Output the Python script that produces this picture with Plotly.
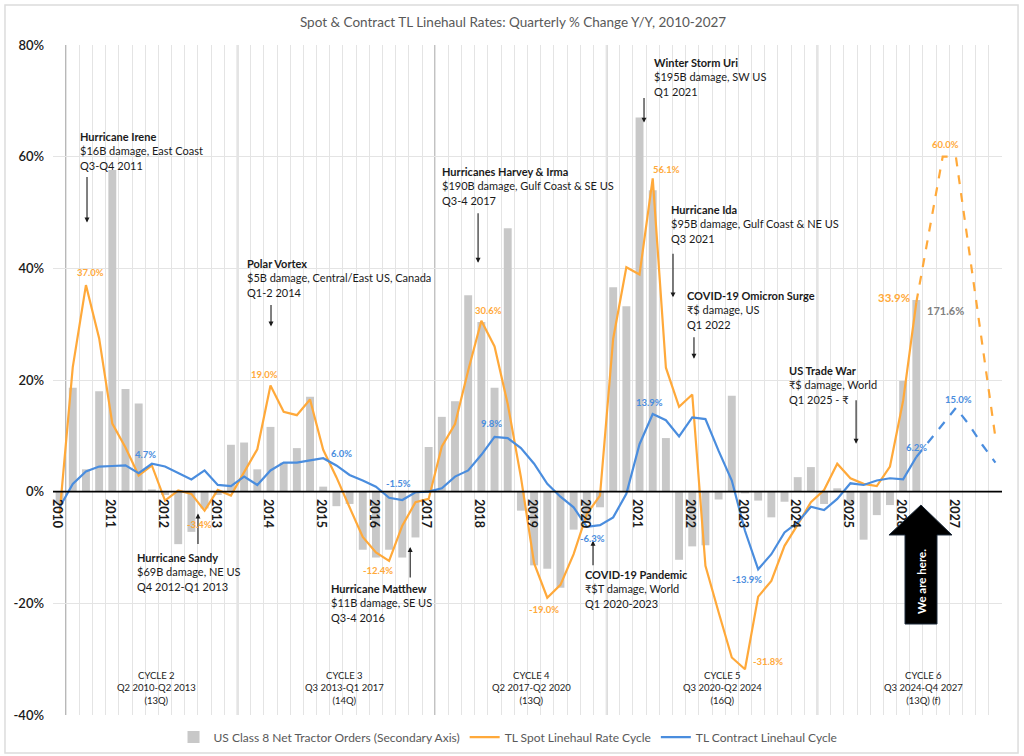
import plotly.graph_objects as go

# ---------------- data ----------------
years = list(range(2010, 2028))
quarters = [f"{y} Q{q}" for y in years for q in range(1, 5)]
year_labels = [str(y) if q == 1 else "" for y in years for q in range(1, 5)]
y_ticks = [-40, -20, 0, 20, 40, 60, 80]
y_tick_text = [f"{v}%" for v in y_ticks]

# US Class 8 net tractor orders, % change Y/Y (secondary axis), 2010 Q1 - 2026 Q2
orders = [-11, 93, 20, 90, 288, 92, 79, 2, -3, -47, -36, -15, -3, 42, 44, 20,
          58, 26, 39, 85, 4.5, -13, -11, -52, -59, -52, -59, -41, 40, 67, 81, 176,
          152, 93, 236, -17, -66, -69, -86, -34, -28, -14, 183, 166, 335, 270, 48, -61,
          -49, -48, -7, 86, -1.5, -8, -23, -9, 13, 22, -11, 3, -11, -43, -21, -12,
          99, 171.6]

# TL spot linehaul rate, % change Y/Y, 2010 Q1 - 2026 Q2
spot = [-4.0, 22.3, 37.0, 27.5, 12.2, 7.9, 2.9, 4.7, -1.6, 0.2, -0.4, -3.4, 0.3, -0.7, 3.5, 7.6,
        19.0, 14.3, 13.7, 16.5, 7.5, 2.6, -2.8, -8.1, -10.9, -12.4, -6.1, -1.9, -1.3, 8.1, 12.1, 21.7,
        30.6, 26.0, 15.7, 2.6, -12.8, -19.0, -16.7, -11.2, -4.0, -0.7, 27.4, 40.2, 38.9, 56.1, 22.2, 15.2,
        17.4, -13.3, -21.6, -29.7, -31.8, -18.8, -16.0, -9.7, -5.9, -1.9, 0.3, 5.0, 2.4, 1.4, 1.0, 4.5,
        16.3, 33.9]

# TL contract linehaul rate, % change Y/Y, 2010 Q1 - 2026 Q2
contract = [-2.8, 1.4, 3.6, 4.5, 4.6, 4.7, 3.3, 5.0, 4.5, 3.3, 2.2, 3.8, 1.2, 1.0, 2.7, 1.2,
            3.8, 5.2, 5.2, 5.6, 6.0, 4.7, 3.0, 2.0, 0.9, -1.1, -1.5, -0.1, 0.0, 0.6, 2.7, 3.8,
            6.6, 9.8, 9.6, 7.8, 5.0, 1.4, -0.9, -2.8, -6.3, -6.0, -4.6, -0.4, 8.5, 13.9, 12.8, 9.9,
            13.3, 13.0, 7.3, 2.0, -7.0, -13.9, -11.2, -7.3, -5.5, -2.7, -3.3, -1.3, 1.5, 1.2, 2.0, 2.4,
            2.2, 6.2]

# forecasts, 2026 Q2 - 2027 Q4
spot_forecast = [33.9, 46.8, 60.0, 60.0, 43.5, 27.0, 9.7]
contract_forecast = [6.2, 9.1, 12.1, 15.0, 12.0, 8.4, 5.2]

actual_q = quarters[:len(spot)]
forecast_q = quarters[len(spot) - 1:]

ORANGE = "#FFA93A"
BLUE = "#4A8DDE"
GRAY_BAR = "#C8C8C8"
TXT = "#1a1a1a"
FONT = "Lato, 'Noto Sans', sans-serif"

fig = go.Figure()
fig.add_trace(go.Bar(x=actual_q, y=orders, yaxis="y", name="US Class 8 Net Tractor Orders (Secondary Axis)",
                     marker=dict(color=GRAY_BAR, line=dict(width=0))))
fig.add_trace(go.Scatter(x=actual_q, y=spot, yaxis="y2", mode="lines", name="TL Spot Linehaul Rate Cycle",
                         line=dict(color=ORANGE, width=2.2)))
fig.add_trace(go.Scatter(x=actual_q, y=contract, yaxis="y2", mode="lines", name="TL Contract Linehaul Cycle",
                         line=dict(color=BLUE, width=2.2)))
fig.add_trace(go.Scatter(x=forecast_q, y=spot_forecast, yaxis="y2", mode="lines", showlegend=False,
                         line=dict(color=ORANGE, width=2.2, dash="dash")))
fig.add_trace(go.Scatter(x=forecast_q, y=contract_forecast, yaxis="y2", mode="lines", showlegend=False,
                         line=dict(color=BLUE, width=2.2, dash="dash")))

shapes = []
# cycle boundaries (between quarters)
for b in [0.5, 13.5, 28.5, 41.5, 57.5]:
    shapes.append(dict(type="line", xref="x", yref="paper", x0=b, x1=b, y0=0, y1=1,
                       line=dict(color="#6b6b6b", width=1.3), layer="below"))
# zero line
shapes.append(dict(type="line", xref="paper", yref="y2", x0=0, x1=1, y0=0, y1=0,
                   line=dict(color="black", width=1.6), layer="above"))
# outer frame
shapes.append(dict(type="rect", xref="paper", yref="paper", x0=-0.0506, x1=1.0169, y0=-0.0567, y1=1.0597,
                   line=dict(color="#dcdcdc", width=1.5), layer="below"))
# "We are here." arrow
shapes.append(dict(type="path", xref="paper", yref="paper",
                   path="M 0.9146,0.3134 L 0.9473,0.2687 L 0.9315,0.2687 L 0.9315,0.1358 "
                        "L 0.8978,0.1358 L 0.8978,0.2687 L 0.8809,0.2687 Z",
                   fillcolor="black", line=dict(color="#1c2a3a", width=1), layer="above"))

ann = []
# event annotations: (x, y top-left, title, line2, line3, arrow tip x, tip y, arrow ay)
events = [
    (1.40, 65.1, "Hurricane Irene", "$16B damage, East Coast", "Q3-Q4 2011", 2.08, 48.2, -47),
    (14.07, 42.3, "Polar Vortex", "$5B damage, Central/East US, Canada", "Q1-2 2014", 16.04, 29.6, -23),
    (28.86, 58.8, "Hurricanes Harvey &amp; Irma", "$190B damage, Gulf Coast &amp; SE US", "Q3-4 2017", 31.75, 41.0, -51),
    (44.95, 78.3, "Winter Storm Uri", "$195B damage, SW US", "Q1 2021", 44.34, 66.1, -26),
    (46.24, 52.0, "Hurricane Ida", "$95B damage, Gulf Coast &amp; NE US", "Q3 2021", 46.54, 34.8, -45),
    (47.45, 36.6, "COVID-19 Omicron Surge", "₹$ damage, US", "Q1 2022", 48.13, 23.8, -23),
    (55.19, 23.3, "US Trade War", "₹$ damage, World", "Q1 2025 - ₹", 60.43, 8.6, -45),
    (5.72, -10.2, "Hurricane Sandy", "$69B damage, NE US", "Q4 2012-Q1 2013", 10.5, -3.9, 32),
    (20.44, -15.9, "Hurricane Matthew", "$11B damage, SE US", "Q3-4 2016", 26.6, -9.9, 32),
    (39.71, -13.4, "COVID-19 Pandemic", "₹$T damage, World", "Q1 2020-2023", 40.47, -8.8, 26),
]
for x, y, t1, t2, t3, tx, ty, ay in events:
    ann.append(dict(x=x, y=y, xref="x", yref="y2", xanchor="left", yanchor="top", align="left",
                    text=f"<b>{t1}</b><br>{t2}<br>{t3}", showarrow=False,
                    font=dict(family=FONT, size=11, color=TXT)))
    ann.append(dict(x=tx, y=ty, xref="x", yref="y2", text="", showarrow=True, ax=0, ay=ay,
                    arrowhead=2, arrowsize=0.9, arrowwidth=1.1, arrowcolor=TXT))

# cycle labels
cycles = [(7.39, "CYCLE 2", "Q2 2010-Q2 2013", "(13Q)"),
          (21.58, "CYCLE 3", "Q3 2013-Q1 2017", "(14Q)"),
          (35.84, "CYCLE 4", "Q2 2017-Q2 2020", "(13Q)"),
          (50.33, "CYCLE 5", "Q3 2020-Q2 2024", "(16Q)"),
          (65.51, "CYCLE 6", "Q3 2024-Q4 2027", "(13Q) (f)")]
for x, a, b, c in cycles:
    ann.append(dict(x=x, y=-31.6, xref="x", yref="y2", xanchor="center", yanchor="top", align="center",
                    text=f"{a}<br>{b}<br>{c}", showarrow=False,
                    font=dict(family=FONT, size=9.5, color=TXT)))

# value labels: (series, quarter index, xshift, yshift)
def lab(series, i, dx, dy, color, size=9.5, yref="y2"):
    v = series[i]
    ann.append(dict(x=i, y=v, xref="x", yref=yref, text=f"{v:.1f}%", showarrow=False,
                    xshift=dx, yshift=dy, font=dict(family=FONT, size=size, color=color, weight="bold")))

full_spot = spot + spot_forecast[1:]
full_contract = contract + contract_forecast[1:]
for i, dx, dy in [(2, 5, 13), (16, -6, 11), (32, 7, 10), (45, 14, 9), (67, 3, 12),
                  (11, -5, -14), (25, -11, -10), (37, -3, -12), (52, 23, 8)]:
    lab(full_spot, i, dx, dy, ORANGE)
lab(full_spot, 65, -22, 5, ORANGE, size=11.5)
for i, dx, dy in [(5, 20, 11), (20, 18, 5), (26, -4, 17), (33, -3, 13), (45, -3, 12),
                  (40, 6, -12), (53, -11, -10), (65, 0, 10), (68, 3, 8)]:
    lab(full_contract, i, dx, dy, BLUE)
ann.append(dict(x=65, y=orders[65], xref="x", yref="y", text=f"{orders[65]:.1f}%", showarrow=False,
                xshift=29, yshift=-10, font=dict(family=FONT, size=11, color="#808080", weight="bold")))

# "We are here." text
ann.append(dict(x=0.9146, y=0.200, xref="paper", yref="paper", text="<b>We are here.</b>", textangle=-90,
                xanchor="center", yanchor="middle",
                showarrow=False, font=dict(family=FONT, size=11.5, color="white")))

fig.update_layout(
    width=1024, height=756,
    margin=dict(l=53, r=22, t=45, b=41, autoexpand=False),
    paper_bgcolor="white", plot_bgcolor="white",
    font=dict(family=FONT, color=TXT),
    title=dict(text="Spot &amp; Contract TL Linehaul Rates: Quarterly % Change Y/Y, 2010-2027",
               x=0.501, y=0.971, xref="container", yref="container", xanchor="center", yanchor="middle",
               font=dict(family=FONT, size=13.5, color="#595959")),
    bargap=0.4,
    hovermode=False,
    showlegend=True,
    legend=dict(orientation="h", x=0.127, y=-0.033, xanchor="left", yanchor="middle",
                font=dict(family=FONT, size=12, color="#595959"), bgcolor="rgba(0,0,0,0)",
                traceorder="normal"),
    xaxis=dict(type="category", categoryorder="array", categoryarray=quarters,
               tickmode="array", tickvals=quarters, ticktext=year_labels, tickson="boundaries",
               range=[-0.5, len(quarters) - 0.5],
               showgrid=True, gridcolor="#e4e4e4", gridwidth=1, ticks="", showline=False,
               anchor="free", position=1/3,
               tickfont=dict(family=FONT, size=12.5, color=TXT, weight="bold")),
    yaxis=dict(range=[-200, 400], visible=False, showgrid=False, zeroline=False),
    yaxis2=dict(overlaying="y", side="left", anchor="x", range=[-40, 80],
                tickmode="array", tickvals=y_ticks, ticktext=y_tick_text, ticklabelstandoff=8,
                showgrid=True, gridcolor="#e4e4e4", gridwidth=1, zeroline=False, showline=False,
                tickfont=dict(family=FONT, size=13, color=TXT, weight=600)),
    shapes=shapes,
    annotations=ann,
)

fig.write_html("out.html", config={"displayModeBar": False},
               post_script="document.body.style.margin='0';document.body.style.overflow='hidden';")
